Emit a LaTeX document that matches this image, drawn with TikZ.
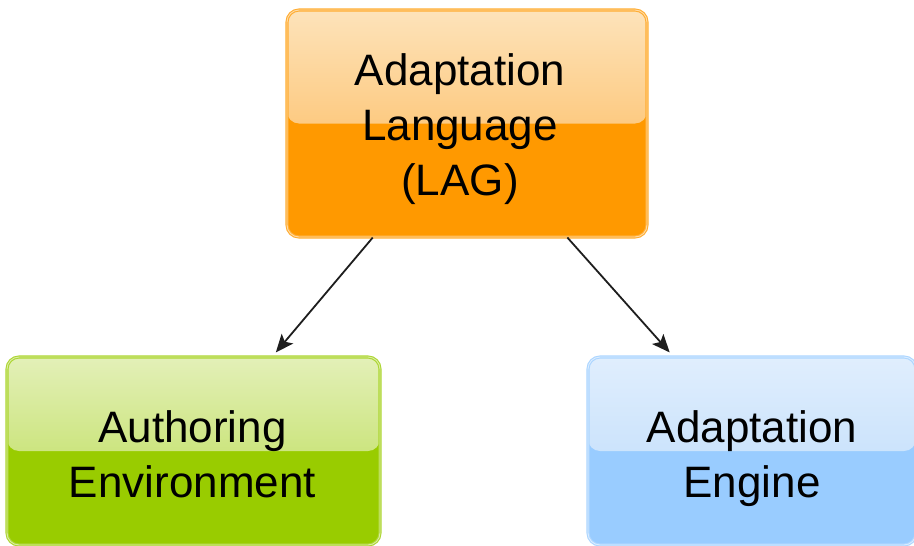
\documentclass[tikz,border=0pt]{standalone}
\usepackage{fontspec}
\setmainfont{Liberation Sans}
\usetikzlibrary{arrows.meta,calc}

\definecolor{orangeTop}{HTML}{FDE3BA}
\definecolor{orangeMid}{HTML}{FDB24A}
\definecolor{orangeBase}{HTML}{FF9900}
\definecolor{greenTop}{HTML}{E3F0B8}
\definecolor{greenMid}{HTML}{B6DA48}
\definecolor{greenBase}{HTML}{99CC00}
\definecolor{blueTop}{HTML}{E0EEFD}
\definecolor{blueMid}{HTML}{B8D9FB}
\definecolor{blueBase}{HTML}{99CCFF}
\definecolor{arrowInk}{HTML}{1E1E1E}

\tikzset{
  glossbox/.style n args={3}{
    rectangle, rounded corners=12pt,
    fill=#3,
    draw=#3!80!white, line width=1.1pt,
    double=#3!35!white, double distance=0.9pt,
    path picture={
      \fill[top color=#1, bottom color=#2]
        (path picture bounding box.north west) rectangle
        (path picture bounding box.east);
    }
  },
  boxtext/.style={align=center, text=black, inner sep=0pt,
    font=\fontsize{44}{55}\selectfont},
  flow/.style={draw=arrowInk, line width=1.8pt,
    -{Stealth[length=18pt,width=15pt,inset=4pt]}}
}

\begin{document}
\begin{tikzpicture}[x=1pt,y=-1pt]
  \useasboundingbox (0,0) rectangle (914,546);

  % central language box
  \node[glossbox={orangeTop}{orangeMid}{orangeBase},
        minimum width=360pt, minimum height=227pt]
    (lag) at (467,123.5) {};
  \node[boxtext, text height=153pt, text depth=10pt]
    (lagText) at ($(lag.center)+(-7,0)$) {Adaptation\\Language\\(LAG)};

  % authoring side
  \node[glossbox={greenTop}{greenMid}{greenBase},
        minimum width=373pt, minimum height=188pt]
    (author) at (193.5,451) {};
  \node[boxtext, text height=102pt, text depth=10pt]
    (authorText) at ($(author.center)+(-1,0)$) {Authoring\\Environment};

  % runtime side
  \node[glossbox={blueTop}{blueMid}{blueBase},
        minimum width=328pt, minimum height=188pt]
    (engine) at (752,451) {};
  \node[boxtext, text height=102pt, text depth=10pt]
    (engineText) at (engine.center) {Adaptation\\Engine};

  % connectors
  \coordinate (authorIn) at ($(author.north west)!0.72!(author.north east)+(0,-4)$);
  \coordinate (engineIn) at ($(engine.north west)!0.25!(engine.north east)+(0,-4)$);
  \draw[flow] ($(lag.south west)!0.239!(lag.south east)$) -- (authorIn);
  \draw[flow] ($(lag.south west)!0.778!(lag.south east)$) -- (engineIn);
\end{tikzpicture}
\end{document}
